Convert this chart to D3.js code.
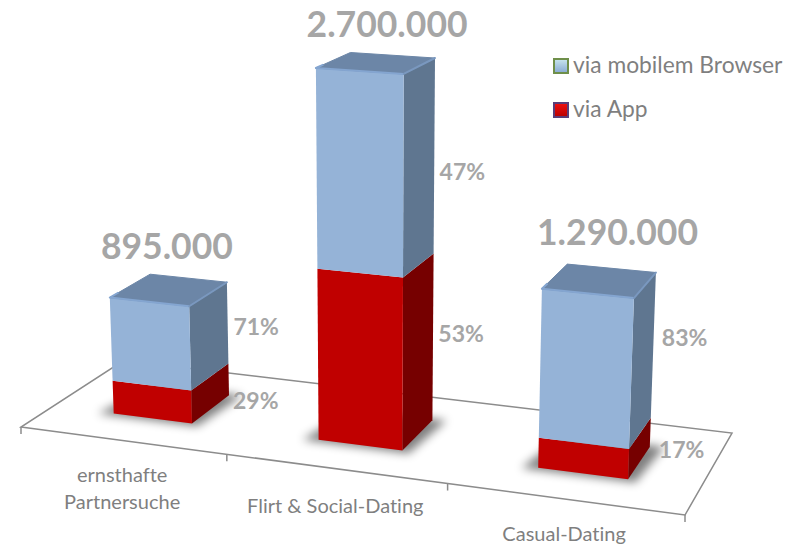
<!DOCTYPE html>
<html>
<head>
<meta charset="utf-8">
<script src="https://cdnjs.cloudflare.com/ajax/libs/d3/7.8.5/d3.min.js"></script>
<style>
    html, body { margin: 0; padding: 0; background: #fff; }
    svg { display: block; }
    text { font-family: Lato, "Open Sans", sans-serif; font-variant-ligatures: none; }
</style>
</head>
<body>
<div id="chart"></div>
<script>
var categories = [['ernsthafte', 'Partnersuche'], ['Flirt & Social-Dating'], ['Casual-Dating']];
var seriesNames = ['via mobilem Browser', 'via App'];
var appValues = [255000, 1272000, 220000];
var browserValues = [640000, 1428000, 1070000];
var appPercent = [29, 53, 17];
var browserPercent = [71, 47, 83];

var width = 794, height = 544;

var svg = d3.select('#chart').append('svg')
    .attr('width', width)
    .attr('height', height);

// floor corners on screen: front left, front right, back right, back left
var floor = [[21, 427], [685, 515], [732, 433], [123.5, 360.5]];

// unit square -> floor quad
var dx1 = floor[1][0] - floor[2][0], dx2 = floor[3][0] - floor[2][0],
    dy1 = floor[1][1] - floor[2][1], dy2 = floor[3][1] - floor[2][1],
    sx = floor[0][0] - floor[1][0] + floor[2][0] - floor[3][0],
    sy = floor[0][1] - floor[1][1] + floor[2][1] - floor[3][1],
    det = dx1 * dy2 - dx2 * dy1,
    g = (sx * dy2 - dx2 * sy) / det,
    h = (dx1 * sy - sx * dy1) / det,
    a = floor[1][0] - floor[0][0] + g * floor[1][0],
    b = floor[3][0] - floor[0][0] + h * floor[3][0],
    d = floor[1][1] - floor[0][1] + g * floor[1][1],
    e = floor[3][1] - floor[0][1] + h * floor[3][1];

// verticals meet far below the picture
var vanish = [376, 8300], camera = 8225;

function project(u, v, z) {
    var w = g * u + h * v + 1;
    var x0 = (a * u + b * v + floor[0][0]) / w,
        y0 = (d * u + e * v + floor[0][1]) / w;
    var f = w / (w - z / camera);
    return [vanish[0] + (x0 - vanish[0]) * f, vanish[1] + (y0 - vanish[1]) * f];
}

var xScale = d3.scaleBand()
    .domain(d3.range(categories.length))
    .range([0, 1])
    .paddingInner(0.61)
    .paddingOuter(0.305);
var yScale = d3.scaleLinear().domain([0, 2700000]).range([0, 366]);
var depth = [0.3, 0.705];

var deFormat = d3.formatLocale({ decimal: ',', thousands: '.', grouping: [3], currency: ['', ' €'] }).format(',d');

var defs = svg.append('defs');
defs.append('filter').attr('id', 'soft')
    .attr('x', '-30%').attr('y', '-30%').attr('width', '160%').attr('height', '160%')
    .append('feGaussianBlur').attr('stdDeviation', 5);
defs.append('filter').attr('id', 'soften')
    .append('feGaussianBlur').attr('stdDeviation', 0.5);

var blueSwatch = defs.append('linearGradient').attr('id', 'swatch0').attr('x2', 0).attr('y2', 1);
blueSwatch.append('stop').attr('offset', '0%').attr('stop-color', '#c9e6ee');
blueSwatch.append('stop').attr('offset', '100%').attr('stop-color', '#86a8d2');
var redSwatch = defs.append('linearGradient').attr('id', 'swatch1').attr('x2', 0).attr('y2', 1);
redSwatch.append('stop').attr('offset', '0%').attr('stop-color', '#f01010');
redSwatch.append('stop').attr('offset', '100%').attr('stop-color', '#b80000');

function poly(points) {
    return points.map(function(p) { return p[0].toFixed(1) + ',' + p[1].toFixed(1); }).join(' ');
}

// floor outline, the back corner is hidden by the first column
var lineColor = '#8c8c8c';
svg.append('polygon')
    .attr('points', poly(floor))
    .attr('fill', 'none')
    .attr('stroke', lineColor)
    .attr('stroke-width', 1.5);

// ticks on the front edge
svg.selectAll('line.tick')
    .data(d3.range(categories.length + 1))
    .enter()
        .append('line')
        .attr('class', 'tick')
        .attr('x1', function(i) { return project(i / categories.length, 0, 0)[0]; })
        .attr('y1', function(i) { return project(i / categories.length, 0, 0)[1]; })
        .attr('x2', function(i) { return project(i / categories.length, 0, 0)[0]; })
        .attr('y2', function(i) { return project(i / categories.length, 0, 0)[1] + 7; })
        .attr('stroke', lineColor)
        .attr('stroke-width', 1.5);

var bars = d3.range(categories.length).map(function(i) {
    return {
        u0: xScale(i),
        u1: xScale(i) + xScale.bandwidth(),
        mid: yScale(appValues[i]),
        top: yScale(appValues[i] + browserValues[i])
    };
});

// shadows on the floor
svg.selectAll('polygon.shadow')
    .data(bars)
    .enter()
        .append('polygon')
        .attr('class', 'shadow')
        .attr('points', function(s) {
            return poly([
                project(s.u0 - 0.022, depth[0] - 0.025, 0),
                project(s.u1 + 0.012, depth[0] - 0.025, 0),
                project(s.u1 + 0.02, depth[1] + 0.02, 0),
                project(s.u0, depth[1] + 0.02, 0)
            ]);
        })
        .attr('fill', '#000')
        .attr('opacity', 0.5)
        .attr('filter', 'url(#soft)');

var barGroups = svg.selectAll('g.bar')
    .data(bars)
    .enter()
        .append('g')
        .attr('class', 'bar')
        .attr('filter', 'url(#soften)');

// red part
barGroups.append('polygon')
    .attr('points', function(s) {
        return poly([project(s.u1, depth[0], 0), project(s.u1, depth[1], 0), project(s.u1, depth[1], s.mid), project(s.u1, depth[0], s.mid)]);
    })
    .attr('fill', '#760000');
barGroups.append('polygon')
    .attr('points', function(s) {
        return poly([project(s.u0, depth[0], 0), project(s.u1, depth[0], 0), project(s.u1, depth[0], s.mid), project(s.u0, depth[0], s.mid)]);
    })
    .attr('fill', '#c00000');

// blue part
barGroups.append('polygon')
    .attr('points', function(s) {
        return poly([project(s.u1, depth[0], s.mid), project(s.u1, depth[1], s.mid), project(s.u1, depth[1], s.top), project(s.u1, depth[0], s.top)]);
    })
    .attr('fill', '#5f7690');
barGroups.append('polygon')
    .attr('points', function(s) {
        return poly([project(s.u0, depth[0], s.mid), project(s.u1, depth[0], s.mid), project(s.u1, depth[0], s.top), project(s.u0, depth[0], s.top)]);
    })
    .attr('fill', '#95b3d7');
barGroups.append('polygon')
    .attr('points', function(s) {
        return poly([project(s.u0, depth[0], s.top), project(s.u1, depth[0], s.top), project(s.u1, depth[1], s.top), project(s.u0, depth[1], s.top)]);
    })
    .attr('fill', '#6c86a7')
    .attr('stroke', '#6c86a7')
    .attr('stroke-linejoin', 'round')
    .attr('stroke-width', 1);

// bevel highlights round the top
barGroups.append('polyline')
    .attr('points', function(s) {
        return poly([project(s.u0, depth[1] - 0.32, s.top), project(s.u0, depth[0], s.top), project(s.u1, depth[0], s.top)]);
    })
    .attr('fill', 'none')
    .attr('stroke', '#84a5d0')
    .attr('stroke-linejoin', 'round')
    .attr('stroke-width', 2);
barGroups.append('line')
    .attr('x1', function(s) { return project(s.u1, depth[0], s.top)[0]; })
    .attr('y1', function(s) { return project(s.u1, depth[0], s.top)[1]; })
    .attr('x2', function(s) { return project(s.u1, depth[1], s.top)[0]; })
    .attr('y2', function(s) { return project(s.u1, depth[1], s.top)[1]; })
    .attr('stroke', '#7a98bf')
    .attr('stroke-width', 2)
    .attr('stroke-linecap', 'round');

// total above each column
var totalNudge = [[-2, -31], [11, -26], [18, -36]];
svg.selectAll('text.total')
    .data(bars)
    .enter()
        .append('text')
        .attr('class', 'total')
        .attr('x', function(s, i) { return project((s.u0 + s.u1) / 2, 0.5, s.top)[0] + totalNudge[i][0]; })
        .attr('y', function(s, i) { return project((s.u0 + s.u1) / 2, 0.5, s.top)[1] + totalNudge[i][1]; })
        .attr('text-anchor', 'middle')
        .attr('font-size', 35.5)
        .attr('font-weight', 700)
        .attr('fill', '#a6a6a6')
        .text(function(s, i) { return deFormat(appValues[i] + browserValues[i]); });

// percent labels right of the columns
var browserNudge = [[5, 12], [6, 24], [11, 1]];
var appNudge = [[4, 30], [6, 5], [9, 26]];
function percentLabels(cls, values, nudge, z0, z1) {
    svg.selectAll('text.' + cls)
        .data(bars)
        .enter()
            .append('text')
            .attr('class', cls)
            .attr('x', function(s, i) { return project(s.u1, depth[1], z0(s))[0] + nudge[i][0]; })
            .attr('y', function(s, i) { return (project(s.u1, depth[1], z0(s))[1] + project(s.u1, depth[1], z1(s))[1]) / 2 + nudge[i][1]; })
            .attr('font-size', 23)
            .attr('font-weight', 700)
            .attr('fill', '#a6a6a6')
            .text(function(s, i) { return values[i] + '%'; });
}
percentLabels('browser', browserPercent, browserNudge, function(s) { return s.mid; }, function(s) { return s.top; });
percentLabels('app', appPercent, appNudge, function() { return 0; }, function(s) { return s.mid; });

// category labels under the front edge
var labelDrop = [42, 44, 42];
var lab = svg.selectAll('text.cat')
    .data(categories)
    .enter()
        .append('text')
        .attr('class', 'cat')
        .attr('text-anchor', 'middle')
        .attr('font-size', 20)
        .attr('fill', '#7f7f7f');
lab.selectAll('tspan')
    .data(function(c, i) {
        return c.map(function(t, n) { return { text: t, i: i, n: n }; });
    })
    .enter()
        .append('tspan')
        .attr('x', function(t) { return project((t.i + 0.5) / categories.length, 0, 0)[0]; })
        .attr('y', function(t) { return project((t.i + 0.5) / categories.length, 0, 0)[1] + labelDrop[t.i] + t.n * 27; })
        .text(function(t) { return t.text; });

// legend
var legend = svg.selectAll('g.legend')
    .data(seriesNames)
    .enter()
        .append('g')
        .attr('class', 'legend')
        .attr('transform', function(n, i) { return 'translate(554,' + (59 + i * 44) + ')'; });
legend.append('rect')
    .attr('width', 14)
    .attr('height', 14)
    .attr('fill', function(n, i) { return 'url(#swatch' + i + ')'; })
    .attr('stroke', function(n, i) { return ['#6f8f4a', '#5a3d78'][i]; })
    .attr('stroke-width', 2);
legend.append('text')
    .attr('x', 19)
    .attr('y', 14)
    .attr('font-size', 22.8)
    .attr('fill', '#7f7f7f')
    .text(function(n) { return n; });
</script>
</body>
</html>
